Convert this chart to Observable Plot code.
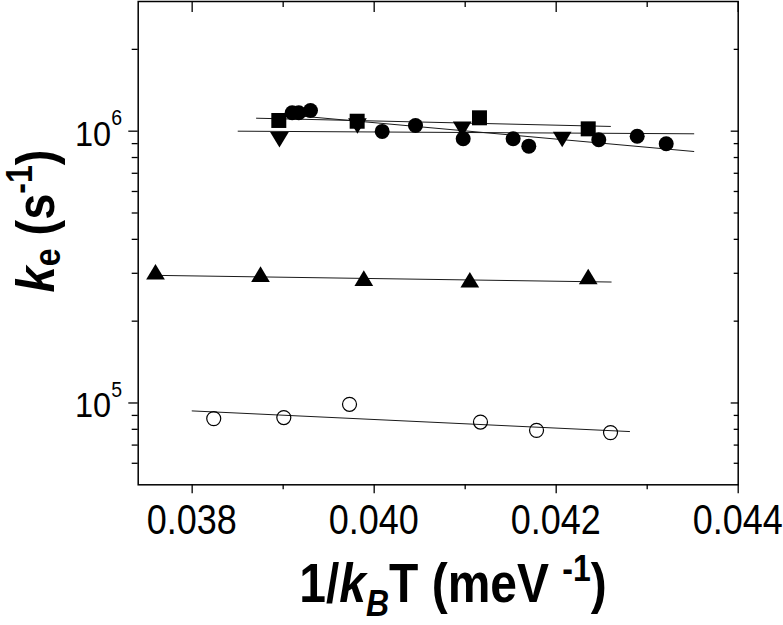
<!DOCTYPE html>
<html><head><meta charset="utf-8">
<script src="https://cdn.jsdelivr.net/npm/d3@7"></script>
<script src="https://cdn.jsdelivr.net/npm/@observablehq/plot@0.6"></script>
<style>body{margin:0;background:#fff} svg{display:block}</style>
</head><body><div id="chart"></div>
<script>
// ---- data ----
const squareX = [0.038952, 0.039813, 0.041157, 0.042352];
const squareY = [1.095e6, 1.088e6, 1.120e6, 1.020e6];
const downX = [0.038959, 0.039816, 0.040967, 0.042066];
const downY = [9.30e5, 1.045e6, 1.015e6, 9.32e5];
const circleX = [0.039099, 0.039171, 0.039300, 0.040088, 0.040454, 0.040978, 0.041527, 0.041699, 0.042468, 0.042890, 0.043209];
const circleY = [1.169e6, 1.169e6, 1.192e6, 9.98e5, 1.049e6, 9.38e5, 9.38e5, 8.81e5, 9.30e5, 9.58e5, 8.99e5];
const upX = [0.037597, 0.038751, 0.039886, 0.041051, 0.042352];
const upY = [3.04e5, 2.98e5, 2.88e5, 2.84e5, 2.92e5];
const openX = [0.038237, 0.039007, 0.039729, 0.041168, 0.041784, 0.042597];
const openY = [8.76e4, 8.84e4, 9.89e4, 8.51e4, 7.93e4, 7.78e4];
// fit lines (end points)
const fitSquareX = [0.038707, 0.042596], fitSquareY = [1.116e6, 1.041e6];
const fitDownX = [0.038505, 0.043512], fitDownY = [1.000e6, 9.78e5];
const fitCircleX = [0.039025, 0.043512], fitCircleY = [1.150e6, 8.42e5];
const fitUpX = [0.037597, 0.042604], fitUpY = [2.948e5, 2.786e5];
const fitOpenX = [0.038000, 0.042806], fitOpenY = [9.35e4, 7.85e4];
// ticks
const xMajor = [0.038, 0.040, 0.042, 0.044];
const xMinor = [0.039, 0.041, 0.043];
const xTickLabels = ["0.038", "0.040", "0.042", "0.044"];
const yMajor = [1e5, 1e6];
const yExponents = ["5", "6"];
const yMinor = [6e4, 7e4, 8e4, 9e4, 2e5, 3e5, 4e5, 5e5, 6e5, 7e5, 8e5, 9e5, 2e6];

const rows = (X, Y) => X.map((x, i) => ({x, y: Y[i]}));
const font = "'Liberation Sans', Arial, Helvetica, sans-serif";

const triUp = {draw(c, size) { const a = Math.sqrt(size / Math.PI); const w = a * 1.2, h = a; c.moveTo(0, -h); c.lineTo(w, h); c.lineTo(-w, h); c.closePath(); }};
const triDown = {draw(c, size) { const a = Math.sqrt(size / Math.PI); const w = a * 1.2, h = a; c.moveTo(0, h); c.lineTo(w, -h); c.lineTo(-w, -h); c.closePath(); }};

const lineOpt = {x: "x", y: "y", stroke: "#1a1a1a", strokeWidth: 1};
const noText = () => "";
const plot = Plot.plot({
  width: 783, height: 625,
  marginLeft: 137.7, marginRight: 45.3, marginTop: 1, marginBottom: 140.7,
  x: {domain: [0.037407, 0.044]},
  y: {type: "log", domain: [5e4, 3e6]},
  style: {fontFamily: font, background: "white", color: "black"},
  marks: [
    Plot.line(rows(fitOpenX, fitOpenY), lineOpt),
    Plot.line(rows(fitUpX, fitUpY), lineOpt),
    Plot.line(rows(fitSquareX, fitSquareY), lineOpt),
    Plot.line(rows(fitDownX, fitDownY), lineOpt),
    Plot.line(rows(fitCircleX, fitCircleY), lineOpt),
    Plot.dot(rows(openX, openY), {x: "x", y: "y", r: 7, symbol: "circle", fill: "none", stroke: "black", strokeWidth: 1.2}),
    Plot.dot(rows(upX, upY), {x: "x", y: "y", r: 7.8, symbol: triUp, fill: "black", stroke: "none"}),
    Plot.dot(rows(squareX, squareY), {x: "x", y: "y", r: 8.46, symbol: "square", fill: "black", stroke: "none"}),
    Plot.dot(rows(downX, downY), {x: "x", y: "y", r: 7.8, symbol: triDown, fill: "black", stroke: "none"}),
    Plot.dot(rows(circleX, circleY), {x: "x", y: "y", r: 7.5, symbol: "circle", fill: "black", stroke: "none"}),
    Plot.frame({stroke: "black", strokeWidth: 1.5}),
    Plot.axisX({anchor: "bottom", ticks: xMajor, tickSize: 9, tickFormat: noText, label: null, strokeWidth: 1.3}),
    Plot.axisX({anchor: "bottom", ticks: xMinor, tickSize: 5, tickFormat: noText, label: null, strokeWidth: 1.3}),
    Plot.axisX({anchor: "top", ticks: xMajor, tickSize: -10, tickFormat: noText, label: null, strokeWidth: 1.3}),
    Plot.axisX({anchor: "top", ticks: xMinor, tickSize: -5, tickFormat: noText, label: null, strokeWidth: 1.3}),
    Plot.axisY({anchor: "left", ticks: yMajor, tickSize: 9.4, tickFormat: noText, label: null, strokeWidth: 1.3}),
    Plot.axisY({anchor: "left", ticks: yMinor, tickSize: 6, tickFormat: noText, label: null, strokeWidth: 1.3}),
    Plot.axisY({anchor: "right", ticks: yMajor, tickSize: -8, tickFormat: noText, label: null, strokeWidth: 1.3}),
    Plot.axisY({anchor: "right", ticks: yMinor, tickSize: -5, tickFormat: noText, label: null, strokeWidth: 1.3})
  ]
});
document.getElementById("chart").appendChild(plot);

// ---- tick labels and titles, positioned through the plot's scales ----
const sx = plot.scale("x"), sy = plot.scale("y");
const g = d3.select(plot).append("g").attr("font-family", font).attr("fill", "black");
xMajor.forEach((v, i) => {
  g.append("text")
    .attr("transform", `translate(${sx.apply(v)},534) scale(1,1.2)`)
    .attr("text-anchor", "middle").attr("font-size", 36)
    .text(xTickLabels[i]);
});
yMajor.forEach((v, i) => {
  const t = g.append("text")
    .attr("transform", `translate(122,${sy.apply(v) + 15}) scale(1,1.1)`)
    .attr("text-anchor", "end").attr("font-size", 32.5);
  t.append("tspan").text("10");
  t.append("tspan").attr("font-size", 19.5).attr("dy", -19).text(yExponents[i]);
});
// x title
const xt = g.append("text")
  .attr("transform", "translate(453,602) scale(1,1.15)")
  .attr("text-anchor", "middle").attr("font-size", 48).attr("font-weight", "bold");
xt.append("tspan").text("1/");
xt.append("tspan").attr("font-style", "italic").text("k");
xt.append("tspan").attr("font-style", "italic").attr("font-size", 32).attr("dy", 12).text("B");
xt.append("tspan").attr("dy", -12).text("T (meV ");
xt.append("tspan").attr("font-size", 32).attr("dy", -18).text("-1");
xt.append("tspan").attr("dy", 18).text(")");
// y title
const yt = g.append("text")
  .attr("transform", "translate(54,221) rotate(-90) scale(1,1.15)")
  .attr("text-anchor", "middle").attr("font-size", 47).attr("font-weight", "bold");
yt.append("tspan").attr("font-style", "italic").text("k");
yt.append("tspan").attr("font-size", 32).attr("dy", 5).text("e");
yt.append("tspan").attr("dy", -5).text(" (s");
yt.append("tspan").attr("font-size", 32).attr("dy", -19).text("-1");
yt.append("tspan").attr("dy", 19).text(")");
</script>
</body></html>
